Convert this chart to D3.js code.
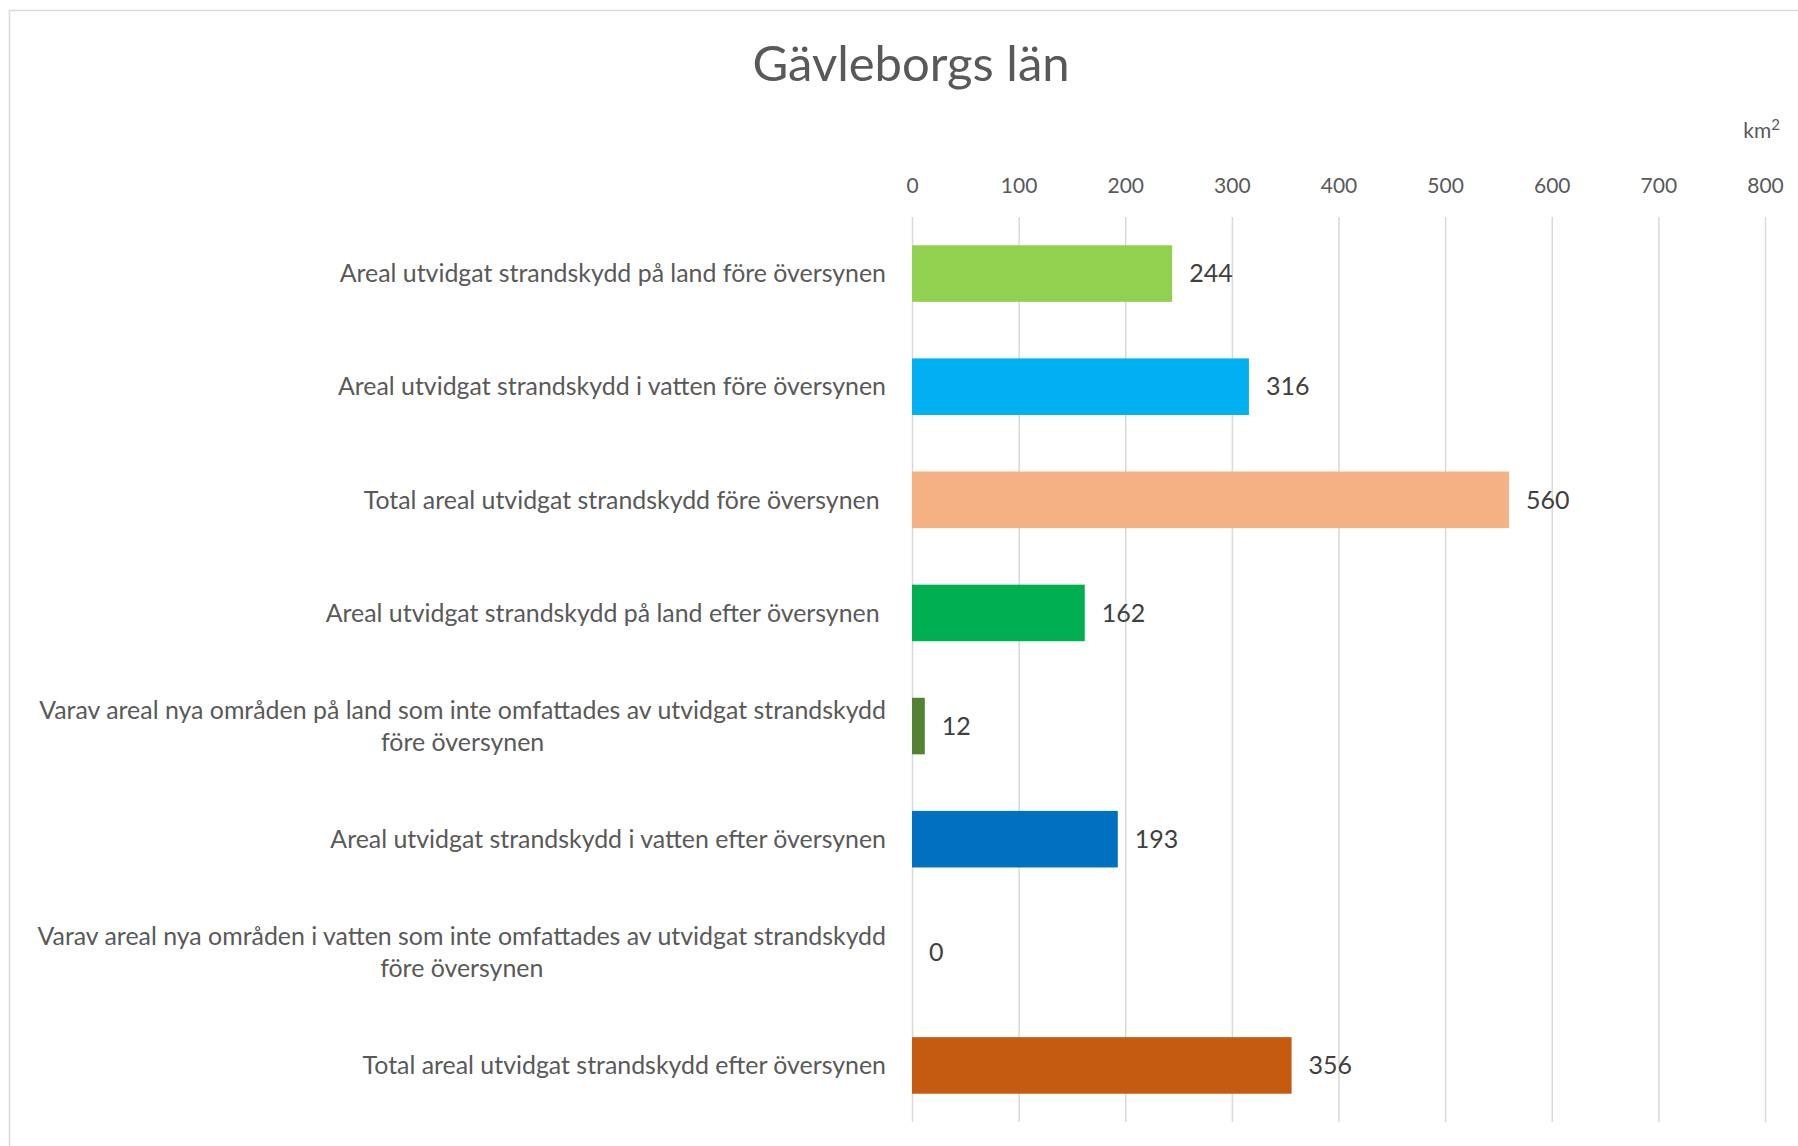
<!DOCTYPE html>
<meta charset="utf-8">
<script src="https://d3js.org/d3.v7.min.js"></script>
<style>
	body{
		margin:0;
		background:#fff;
		font-family: Lato, 'Open Sans', sans-serif;
	}
	text{
		white-space:pre;
	}
	.grid line{
		stroke:#d9d9d9;
		stroke-width:1.5;
	}
	.grid path{
		display:none;
	}
</style>
<div id="chart"></div>
<script>
	// chart data
	var categories = [
		"Areal utvidgat strandskydd på land före översynen",
		"Areal utvidgat strandskydd i vatten före översynen",
		"Total areal utvidgat strandskydd före översynen ",
		"Areal utvidgat strandskydd på land efter översynen ",
		"Varav areal nya områden på land som inte omfattades av utvidgat strandskydd\nföre översynen",
		"Areal utvidgat strandskydd i vatten efter översynen",
		"Varav areal nya områden i vatten som inte omfattades av utvidgat strandskydd\nföre översynen",
		"Total areal utvidgat strandskydd efter översynen"
	]
	var values = [244,316,560,162,12,193,0,356]
	var barColors = ["#92d050","#00b0f0","#f4b183","#00b050","#548235","#0070c0","#2e75b6","#c55a11"]
	var xTicks = [0,100,200,300,400,500,600,700,800]
	var title = "Gävleborgs län"
	var unit = "km"
	var unitSup = "2"

	var w = 1798
	var h = 1146
	var plotLeft = 912
	var plotRight = 1765
	var plotTop = 217
	var plotBottom = 1122

	var svg = d3.select("#chart").append("svg").attr("width",w).attr("height",h)

	// outer frame
	svg.append("rect")
		.attr("x",9.5).attr("y",10.5)
		.attr("width",w).attr("height",h)
		.attr("fill","none").attr("stroke","#d9d9d9").attr("stroke-width",1.5)

	var xScale = d3.scaleLinear().domain([0,800]).range([plotLeft,plotRight])
	var yScale = d3.scaleBand().domain(d3.range(categories.length)).range([plotTop,plotBottom])
		.paddingInner(0.5).paddingOuter(0.25)

	// gridlines
	svg.append("g").attr("class","grid")
		.attr("transform","translate(0,"+plotTop+")")
		.call(d3.axisBottom(xScale).tickValues(xTicks).tickSize(plotBottom-plotTop).tickFormat(""))

	// tick labels
	var xAxis = svg.append("g")
		.attr("transform","translate(0,186)")
		.call(d3.axisTop(xScale).tickValues(xTicks).tickSize(0).tickPadding(0))
	xAxis.select(".domain").remove()
	xAxis.selectAll("text")
		.attr("font-family","Lato, sans-serif")
		.attr("font-size",21)
		.attr("fill","#595959")
		.attr("dy","0.35em")

	svg.append("text").text(title)
		.attr("x",911).attr("y",81)
		.attr("text-anchor","middle")
		.attr("font-size",49)
		.attr("fill","#595959")

	var unitText = svg.append("text")
		.attr("x",1780).attr("y",138)
		.attr("text-anchor","end")
		.attr("font-size",21)
		.attr("fill","#595959")
	unitText.append("tspan").text(unit)
	unitText.append("tspan").text(unitSup).attr("font-size",15).attr("dy",-8)

	// bars
	svg.selectAll(".bar")
		.data(values)
		.enter()
		.append("rect")
		.attr("class","bar")
		.attr("x",xScale(0))
		.attr("y",function(d,i){return yScale(i)})
		.attr("width",function(d){return xScale(d)-xScale(0)})
		.attr("height",yScale.bandwidth())
		.attr("fill",function(d,i){return barColors[i]})

	// value labels
	svg.selectAll(".val")
		.data(values)
		.enter()
		.append("text")
		.attr("class","val")
		.text(function(d){return d})
		.attr("x",function(d){return xScale(d)+17})
		.attr("y",function(d,i){return yScale(i)+yScale.bandwidth()/2})
		.attr("dy","0.35em")
		.attr("font-size",25)
		.attr("fill","#404040")

	// category labels
	var labelRight = 886
	var lineH = 32
	categories.forEach(function(c,i){
		var lines = c.split("\n")
		var cy = yScale(i)+yScale.bandwidth()/2
		var t = svg.append("text")
			.attr("font-size",24.9)
			.attr("fill","#595959")
		if(lines.length==1){
			t.text(c).attr("x",labelRight).attr("y",cy).attr("dy","0.35em").attr("text-anchor","end")
		}else{
			t.attr("text-anchor","middle")
			var spans = []
			lines.forEach(function(l,j){
				spans.push(t.append("tspan").text(l)
					.attr("y",cy+(j-(lines.length-1)/2)*lineH)
					.attr("dy","0.35em"))
			})
			var maxW = d3.max(spans,function(s){return s.node().getComputedTextLength()})
			spans.forEach(function(s){s.attr("x",labelRight-maxW/2)})
		}
	})
</script>
